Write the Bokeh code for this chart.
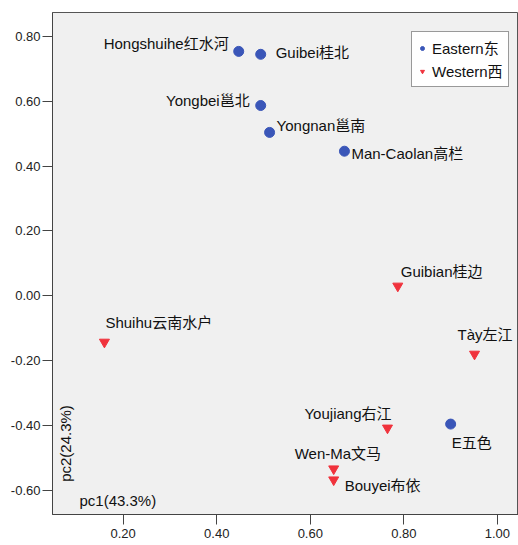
from bokeh.plotting import figure
from bokeh.models import Range1d, ColumnDataSource, Label, Legend, LegendItem, FixedTicker, NumeralTickFormatter, LabelSet
from bokeh.embed import file_html
from bokeh.resources import INLINE
from bokeh.core.properties import value
import math

# ---- data ----
names = ["Hongshuihe红水河", "Guibei桂北", "Yongbei邕北", "Yongnan邕南", "Man-Caolan高栏", "E五色",
         "Guibian桂边", "Shuihu云南水户", "Tày左江", "Youjiang右江", "Wen-Ma文马", "Bouyei布依"]
pc1 = [0.447, 0.494, 0.494, 0.513, 0.673, 0.900,
       0.787, 0.160, 0.951, 0.765, 0.650, 0.650]
pc2 = [0.754, 0.745, 0.587, 0.504, 0.446, -0.396,
       0.030, -0.143, -0.180, -0.408, -0.534, -0.568]
group = ["Eastern东"] * 6 + ["Western西"] * 6
x_ticks = [0.2, 0.4, 0.6, 0.8, 1.0]
y_ticks = [-0.6, -0.4, -0.2, 0.0, 0.2, 0.4, 0.6, 0.8]

# label placement (screen px)
lab_dx = [-10, 15, -11, 7, 7, 1, 3, 1, -17, 4, -39, 11]
lab_dy = [8, 2, 5, 7, -2, -18, 15, 20, 20, 14, 15, -6]
lab_align = ["right", "left", "right", "left", "left", "left", "left", "left", "left", "right", "left", "left"]

FONT = "Liberation Sans, Arial, 'Noto Sans CJK SC', sans-serif"
BLUE = "#3a56b8"
RED = "#f0323c"

p = figure(width=518, height=545, output_backend="svg", toolbar_location=None,
           x_range=Range1d(0.049, 1.045), y_range=Range1d(-0.675, 0.874),
           min_border_left=52, min_border_right=0, min_border_top=12, min_border_bottom=31)
p.background_fill_color = "#f0f0f0"
p.border_fill_color = "white"
p.outline_line_color = "#555555"
p.grid.visible = False

for ax in (p.xaxis[0], p.yaxis[0]):
    ax.axis_line_color = "#444444"
    ax.major_tick_line_color = "#444444"
    ax.major_tick_out = 10
    ax.major_tick_in = 0
    ax.minor_tick_line_color = None
    ax.major_label_text_font = FONT
    ax.major_label_text_font_size = "13px"
    ax.major_label_text_color = "#222222"
    ax.formatter = NumeralTickFormatter(format="0.00")
p.xaxis[0].ticker = FixedTicker(ticks=x_ticks)
p.yaxis[0].ticker = FixedTicker(ticks=y_ticks)
p.xaxis[0].major_label_standoff = 4
p.yaxis[0].major_label_standoff = 2

east_idx = [i for i, g in enumerate(group) if g == "Eastern东"]
west_idx = [i for i, g in enumerate(group) if g == "Western西"]
src_e = ColumnDataSource(dict(x=[pc1[i] for i in east_idx], y=[pc2[i] for i in east_idx]))
src_w = ColumnDataSource(dict(x=[pc1[i] for i in west_idx], y=[pc2[i] for i in west_idx]))
r_e = p.scatter("x", "y", source=src_e, marker="circle", size=10, fill_color=BLUE, line_color=BLUE)
r_w = p.scatter("x", "y", source=src_w, marker="inverted_triangle", size=10, fill_color=RED, line_color=RED)

lsrc = ColumnDataSource(dict(x=pc1, y=pc2, t=names, dx=lab_dx, dy=lab_dy, al=lab_align))
labels = LabelSet(x="x", y="y", text="t", source=lsrc, x_offset="dx", y_offset="dy",
                  text_align="al", text_baseline="middle", text_font=value(FONT),
                  text_font_size="15px", text_color="#111111")
p.add_layout(labels)

p.add_layout(Label(x=27, y=14, x_units="screen", y_units="screen", text="pc1(43.3%)",
                   text_font=FONT, text_font_size="15px", text_baseline="middle", text_color="#111111"))
p.add_layout(Label(x=13, y=71, x_units="screen", y_units="screen", text="pc2(24.3%)", angle=math.pi / 2,
                   text_font=FONT, text_font_size="15px", text_align="center", text_baseline="middle",
                   text_color="#111111"))

legend = Legend(items=[LegendItem(label="Eastern东", renderers=[r_e]),
                       LegendItem(label="Western西", renderers=[r_w])],
                location=(359, 427))
legend.label_text_font = FONT
legend.label_text_font_size = "15px"
legend.label_text_color = "#111111"
legend.border_line_color = "#333333"
legend.border_line_width = 1
legend.background_fill_color = "white"
legend.background_fill_alpha = 1.0
legend.glyph_width = 10
legend.glyph_height = 20
legend.label_height = 20
legend.label_standoff = 5
legend.padding = 5
legend.spacing = 2
legend.margin = 0
p.add_layout(legend)

open("out.html", "w").write(file_html(p, INLINE))
